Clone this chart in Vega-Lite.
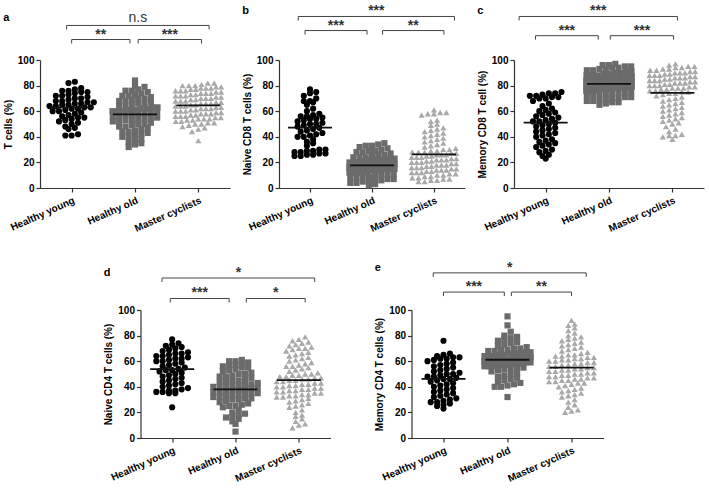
{
"$schema": "https://vega.github.io/schema/vega-lite/v6.json",
"padding": {"left": 3, "top": 4, "right": 2, "bottom": 2},
"datasets": {
"a": [{"g":0,"v":83},{"g":0,"v":82},{"g":0,"v":78},{"g":0,"v":77},{"g":0,"v":76},{"g":0,"v":76},{"g":0,"v":75},{"g":0,"v":75},{"g":0,"v":74},{"g":0,"v":73},{"g":0,"v":72},{"g":0,"v":72},{"g":0,"v":71},{"g":0,"v":70},{"g":0,"v":70},{"g":0,"v":69},{"g":0,"v":68},{"g":0,"v":68},{"g":0,"v":67},{"g":0,"v":67},{"g":0,"v":66},{"g":0,"v":66},{"g":0,"v":65},{"g":0,"v":65},{"g":0,"v":64},{"g":0,"v":64},{"g":0,"v":63},{"g":0,"v":63},{"g":0,"v":62},{"g":0,"v":62},{"g":0,"v":61},{"g":0,"v":60},{"g":0,"v":60},{"g":0,"v":59},{"g":0,"v":58},{"g":0,"v":57},{"g":0,"v":56},{"g":0,"v":55},{"g":0,"v":55},{"g":0,"v":54},{"g":0,"v":53},{"g":0,"v":52},{"g":0,"v":51},{"g":0,"v":50},{"g":0,"v":48},{"g":0,"v":47},{"g":0,"v":46},{"g":0,"v":42},{"g":0,"v":41},{"g":0,"v":41},
{"g":1,"v":84},{"g":1,"v":80},{"g":1,"v":79},{"g":1,"v":77},{"g":1,"v":76},{"g":1,"v":76},{"g":1,"v":75},{"g":1,"v":74},{"g":1,"v":73},{"g":1,"v":72},{"g":1,"v":72},{"g":1,"v":71},{"g":1,"v":70},{"g":1,"v":70},{"g":1,"v":69},{"g":1,"v":68},{"g":1,"v":68},{"g":1,"v":67},{"g":1,"v":66},{"g":1,"v":66},{"g":1,"v":65},{"g":1,"v":64},{"g":1,"v":64},{"g":1,"v":63},{"g":1,"v":63},{"g":1,"v":62},{"g":1,"v":62},{"g":1,"v":61},{"g":1,"v":61},{"g":1,"v":60},{"g":1,"v":60},{"g":1,"v":59},{"g":1,"v":59},{"g":1,"v":58},{"g":1,"v":58},{"g":1,"v":57},{"g":1,"v":57},{"g":1,"v":56},{"g":1,"v":56},{"g":1,"v":55},{"g":1,"v":55},{"g":1,"v":54},{"g":1,"v":54},{"g":1,"v":53},{"g":1,"v":53},{"g":1,"v":52},{"g":1,"v":52},{"g":1,"v":51},{"g":1,"v":50},{"g":1,"v":50},{"g":1,"v":49},{"g":1,"v":48},{"g":1,"v":48},{"g":1,"v":47},{"g":1,"v":46},{"g":1,"v":45},{"g":1,"v":44},{"g":1,"v":44},{"g":1,"v":43},{"g":1,"v":42},{"g":1,"v":41},{"g":1,"v":40},{"g":1,"v":40},{"g":1,"v":38},{"g":1,"v":37},{"g":1,"v":36},{"g":1,"v":35},{"g":1,"v":34},{"g":1,"v":32},{"g":1,"v":60},
{"g":2,"v":82},{"g":2,"v":82},{"g":2,"v":81},{"g":2,"v":80},{"g":2,"v":80},{"g":2,"v":79},{"g":2,"v":79},{"g":2,"v":78},{"g":2,"v":78},{"g":2,"v":77},{"g":2,"v":77},{"g":2,"v":76},{"g":2,"v":76},{"g":2,"v":75},{"g":2,"v":75},{"g":2,"v":74},{"g":2,"v":74},{"g":2,"v":73},{"g":2,"v":73},{"g":2,"v":72},{"g":2,"v":72},{"g":2,"v":71},{"g":2,"v":71},{"g":2,"v":70},{"g":2,"v":70},{"g":2,"v":69},{"g":2,"v":69},{"g":2,"v":68},{"g":2,"v":68},{"g":2,"v":67},{"g":2,"v":67},{"g":2,"v":66},{"g":2,"v":66},{"g":2,"v":65},{"g":2,"v":65},{"g":2,"v":64},{"g":2,"v":64},{"g":2,"v":63},{"g":2,"v":63},{"g":2,"v":62},{"g":2,"v":62},{"g":2,"v":61},{"g":2,"v":61},{"g":2,"v":60},{"g":2,"v":60},{"g":2,"v":59},{"g":2,"v":59},{"g":2,"v":58},{"g":2,"v":58},{"g":2,"v":57},{"g":2,"v":57},{"g":2,"v":56},{"g":2,"v":56},{"g":2,"v":55},{"g":2,"v":55},{"g":2,"v":54},{"g":2,"v":54},{"g":2,"v":53},{"g":2,"v":53},{"g":2,"v":52},{"g":2,"v":52},{"g":2,"v":51},{"g":2,"v":51},{"g":2,"v":50},{"g":2,"v":50},{"g":2,"v":49},{"g":2,"v":48},{"g":2,"v":47},{"g":2,"v":46},{"g":2,"v":44},{"g":2,"v":37},{"g":2,"v":78},{"g":2,"v":76},{"g":2,"v":74},{"g":2,"v":72},{"g":2,"v":70},{"g":2,"v":68},{"g":2,"v":66},{"g":2,"v":64},{"g":2,"v":62},{"g":2,"v":60},{"g":2,"v":58},{"g":2,"v":56},{"g":2,"v":54},{"g":2,"v":80}],
"b": [{"g":0,"v":77},{"g":0,"v":75},{"g":0,"v":74},{"g":0,"v":72},{"g":0,"v":70},{"g":0,"v":68},{"g":0,"v":68},{"g":0,"v":67},{"g":0,"v":65},{"g":0,"v":62},{"g":0,"v":60},{"g":0,"v":58},{"g":0,"v":57},{"g":0,"v":56},{"g":0,"v":56},{"g":0,"v":55},{"g":0,"v":54},{"g":0,"v":54},{"g":0,"v":53},{"g":0,"v":52},{"g":0,"v":51},{"g":0,"v":50},{"g":0,"v":50},{"g":0,"v":49},{"g":0,"v":48},{"g":0,"v":47},{"g":0,"v":46},{"g":0,"v":45},{"g":0,"v":44},{"g":0,"v":43},{"g":0,"v":42},{"g":0,"v":41},{"g":0,"v":40},{"g":0,"v":40},{"g":0,"v":38},{"g":0,"v":36},{"g":0,"v":35},{"g":0,"v":33},{"g":0,"v":30},{"g":0,"v":30},{"g":0,"v":29},{"g":0,"v":29},{"g":0,"v":28},{"g":0,"v":28},{"g":0,"v":27},{"g":0,"v":27},{"g":0,"v":26},{"g":0,"v":26},{"g":0,"v":25},{"g":0,"v":25},
{"g":1,"v":35},{"g":1,"v":34},{"g":1,"v":33},{"g":1,"v":33},{"g":1,"v":32},{"g":1,"v":31},{"g":1,"v":30},{"g":1,"v":29},{"g":1,"v":29},{"g":1,"v":28},{"g":1,"v":28},{"g":1,"v":27},{"g":1,"v":26},{"g":1,"v":26},{"g":1,"v":25},{"g":1,"v":24},{"g":1,"v":24},{"g":1,"v":23},{"g":1,"v":22},{"g":1,"v":22},{"g":1,"v":21},{"g":1,"v":21},{"g":1,"v":20},{"g":1,"v":20},{"g":1,"v":19},{"g":1,"v":19},{"g":1,"v":18},{"g":1,"v":18},{"g":1,"v":17},{"g":1,"v":17},{"g":1,"v":16},{"g":1,"v":16},{"g":1,"v":15},{"g":1,"v":15},{"g":1,"v":14},{"g":1,"v":14},{"g":1,"v":13},{"g":1,"v":13},{"g":1,"v":12},{"g":1,"v":12},{"g":1,"v":11},{"g":1,"v":11},{"g":1,"v":10},{"g":1,"v":10},{"g":1,"v":9},{"g":1,"v":9},{"g":1,"v":8},{"g":1,"v":8},{"g":1,"v":7},{"g":1,"v":7},{"g":1,"v":6},{"g":1,"v":6},{"g":1,"v":5},{"g":1,"v":5},{"g":1,"v":4},{"g":1,"v":4},{"g":1,"v":3},{"g":1,"v":2},{"g":1,"v":18},{"g":1,"v":20},{"g":1,"v":22},{"g":1,"v":24},{"g":1,"v":16},{"g":1,"v":14},{"g":1,"v":12},{"g":1,"v":19},{"g":1,"v":21},{"g":1,"v":23},{"g":1,"v":17},{"g":1,"v":15},
{"g":2,"v":61},{"g":2,"v":59},{"g":2,"v":59},{"g":2,"v":58},{"g":2,"v":58},{"g":2,"v":57},{"g":2,"v":53},{"g":2,"v":52},{"g":2,"v":50},{"g":2,"v":49},{"g":2,"v":47},{"g":2,"v":46},{"g":2,"v":45},{"g":2,"v":44},{"g":2,"v":43},{"g":2,"v":42},{"g":2,"v":41},{"g":2,"v":40},{"g":2,"v":39},{"g":2,"v":38},{"g":2,"v":37},{"g":2,"v":36},{"g":2,"v":35},{"g":2,"v":34},{"g":2,"v":33},{"g":2,"v":32},{"g":2,"v":31},{"g":2,"v":30},{"g":2,"v":30},{"g":2,"v":29},{"g":2,"v":29},{"g":2,"v":28},{"g":2,"v":28},{"g":2,"v":27},{"g":2,"v":27},{"g":2,"v":26},{"g":2,"v":26},{"g":2,"v":25},{"g":2,"v":25},{"g":2,"v":24},{"g":2,"v":24},{"g":2,"v":23},{"g":2,"v":23},{"g":2,"v":22},{"g":2,"v":22},{"g":2,"v":21},{"g":2,"v":21},{"g":2,"v":20},{"g":2,"v":20},{"g":2,"v":19},{"g":2,"v":19},{"g":2,"v":18},{"g":2,"v":18},{"g":2,"v":17},{"g":2,"v":17},{"g":2,"v":16},{"g":2,"v":16},{"g":2,"v":15},{"g":2,"v":15},{"g":2,"v":14},{"g":2,"v":14},{"g":2,"v":13},{"g":2,"v":13},{"g":2,"v":12},{"g":2,"v":12},{"g":2,"v":11},{"g":2,"v":11},{"g":2,"v":10},{"g":2,"v":10},{"g":2,"v":9},{"g":2,"v":9},{"g":2,"v":8},{"g":2,"v":8},{"g":2,"v":7},{"g":2,"v":7},{"g":2,"v":6},{"g":2,"v":6},{"g":2,"v":5},{"g":2,"v":5},{"g":2,"v":28},{"g":2,"v":26},{"g":2,"v":24},{"g":2,"v":22},{"g":2,"v":20},{"g":2,"v":18},{"g":2,"v":16},{"g":2,"v":14},{"g":2,"v":12}],
"c": [{"g":0,"v":75},{"g":0,"v":74},{"g":0,"v":74},{"g":0,"v":73},{"g":0,"v":72},{"g":0,"v":72},{"g":0,"v":71},{"g":0,"v":71},{"g":0,"v":70},{"g":0,"v":70},{"g":0,"v":68},{"g":0,"v":66},{"g":0,"v":64},{"g":0,"v":62},{"g":0,"v":61},{"g":0,"v":60},{"g":0,"v":59},{"g":0,"v":58},{"g":0,"v":57},{"g":0,"v":56},{"g":0,"v":55},{"g":0,"v":54},{"g":0,"v":53},{"g":0,"v":52},{"g":0,"v":52},{"g":0,"v":51},{"g":0,"v":50},{"g":0,"v":49},{"g":0,"v":48},{"g":0,"v":47},{"g":0,"v":46},{"g":0,"v":45},{"g":0,"v":44},{"g":0,"v":43},{"g":0,"v":42},{"g":0,"v":41},{"g":0,"v":40},{"g":0,"v":38},{"g":0,"v":37},{"g":0,"v":36},{"g":0,"v":35},{"g":0,"v":34},{"g":0,"v":33},{"g":0,"v":32},{"g":0,"v":30},{"g":0,"v":29},{"g":0,"v":28},{"g":0,"v":26},{"g":0,"v":25},{"g":0,"v":23},
{"g":1,"v":97},{"g":1,"v":96},{"g":1,"v":96},{"g":1,"v":95},{"g":1,"v":95},{"g":1,"v":94},{"g":1,"v":94},{"g":1,"v":93},{"g":1,"v":93},{"g":1,"v":92},{"g":1,"v":92},{"g":1,"v":91},{"g":1,"v":91},{"g":1,"v":90},{"g":1,"v":90},{"g":1,"v":89},{"g":1,"v":89},{"g":1,"v":88},{"g":1,"v":88},{"g":1,"v":87},{"g":1,"v":87},{"g":1,"v":86},{"g":1,"v":86},{"g":1,"v":85},{"g":1,"v":85},{"g":1,"v":84},{"g":1,"v":84},{"g":1,"v":83},{"g":1,"v":83},{"g":1,"v":82},{"g":1,"v":82},{"g":1,"v":81},{"g":1,"v":81},{"g":1,"v":80},{"g":1,"v":80},{"g":1,"v":79},{"g":1,"v":79},{"g":1,"v":78},{"g":1,"v":78},{"g":1,"v":77},{"g":1,"v":77},{"g":1,"v":76},{"g":1,"v":76},{"g":1,"v":75},{"g":1,"v":75},{"g":1,"v":74},{"g":1,"v":74},{"g":1,"v":73},{"g":1,"v":73},{"g":1,"v":72},{"g":1,"v":72},{"g":1,"v":71},{"g":1,"v":71},{"g":1,"v":70},{"g":1,"v":70},{"g":1,"v":69},{"g":1,"v":69},{"g":1,"v":68},{"g":1,"v":68},{"g":1,"v":67},{"g":1,"v":67},{"g":1,"v":66},{"g":1,"v":65},{"g":1,"v":82},{"g":1,"v":84},{"g":1,"v":80},{"g":1,"v":86},{"g":1,"v":78},{"g":1,"v":88},{"g":1,"v":76},
{"g":2,"v":97},{"g":2,"v":96},{"g":2,"v":95},{"g":2,"v":95},{"g":2,"v":94},{"g":2,"v":94},{"g":2,"v":93},{"g":2,"v":93},{"g":2,"v":92},{"g":2,"v":92},{"g":2,"v":91},{"g":2,"v":91},{"g":2,"v":90},{"g":2,"v":90},{"g":2,"v":89},{"g":2,"v":89},{"g":2,"v":88},{"g":2,"v":88},{"g":2,"v":87},{"g":2,"v":87},{"g":2,"v":86},{"g":2,"v":86},{"g":2,"v":85},{"g":2,"v":85},{"g":2,"v":84},{"g":2,"v":84},{"g":2,"v":83},{"g":2,"v":83},{"g":2,"v":82},{"g":2,"v":82},{"g":2,"v":81},{"g":2,"v":81},{"g":2,"v":80},{"g":2,"v":80},{"g":2,"v":79},{"g":2,"v":79},{"g":2,"v":78},{"g":2,"v":78},{"g":2,"v":77},{"g":2,"v":77},{"g":2,"v":76},{"g":2,"v":76},{"g":2,"v":75},{"g":2,"v":75},{"g":2,"v":74},{"g":2,"v":74},{"g":2,"v":73},{"g":2,"v":72},{"g":2,"v":71},{"g":2,"v":70},{"g":2,"v":69},{"g":2,"v":68},{"g":2,"v":67},{"g":2,"v":66},{"g":2,"v":65},{"g":2,"v":64},{"g":2,"v":63},{"g":2,"v":62},{"g":2,"v":61},{"g":2,"v":60},{"g":2,"v":59},{"g":2,"v":58},{"g":2,"v":57},{"g":2,"v":56},{"g":2,"v":55},{"g":2,"v":54},{"g":2,"v":53},{"g":2,"v":52},{"g":2,"v":51},{"g":2,"v":50},{"g":2,"v":48},{"g":2,"v":46},{"g":2,"v":44},{"g":2,"v":42},{"g":2,"v":41},{"g":2,"v":41},{"g":2,"v":40},{"g":2,"v":38},{"g":2,"v":90},{"g":2,"v":88},{"g":2,"v":86},{"g":2,"v":84},{"g":2,"v":82},{"g":2,"v":80},{"g":2,"v":78}],
"d": [{"g":0,"v":77},{"g":0,"v":74},{"g":0,"v":73},{"g":0,"v":72},{"g":0,"v":71},{"g":0,"v":70},{"g":0,"v":69},{"g":0,"v":68},{"g":0,"v":67},{"g":0,"v":66},{"g":0,"v":65},{"g":0,"v":64},{"g":0,"v":63},{"g":0,"v":62},{"g":0,"v":61},{"g":0,"v":60},{"g":0,"v":59},{"g":0,"v":58},{"g":0,"v":57},{"g":0,"v":56},{"g":0,"v":55},{"g":0,"v":54},{"g":0,"v":53},{"g":0,"v":53},{"g":0,"v":52},{"g":0,"v":51},{"g":0,"v":50},{"g":0,"v":49},{"g":0,"v":48},{"g":0,"v":47},{"g":0,"v":46},{"g":0,"v":45},{"g":0,"v":44},{"g":0,"v":43},{"g":0,"v":42},{"g":0,"v":41},{"g":0,"v":40},{"g":0,"v":39},{"g":0,"v":38},{"g":0,"v":37},{"g":0,"v":37},{"g":0,"v":36},{"g":0,"v":36},{"g":0,"v":35},{"g":0,"v":35},{"g":0,"v":60},{"g":0,"v":62},{"g":0,"v":64},{"g":0,"v":66},{"g":0,"v":24},
{"g":1,"v":61},{"g":1,"v":60},{"g":1,"v":60},{"g":1,"v":59},{"g":1,"v":58},{"g":1,"v":57},{"g":1,"v":56},{"g":1,"v":56},{"g":1,"v":55},{"g":1,"v":55},{"g":1,"v":54},{"g":1,"v":53},{"g":1,"v":52},{"g":1,"v":51},{"g":1,"v":50},{"g":1,"v":49},{"g":1,"v":48},{"g":1,"v":47},{"g":1,"v":46},{"g":1,"v":45},{"g":1,"v":44},{"g":1,"v":43},{"g":1,"v":42},{"g":1,"v":42},{"g":1,"v":41},{"g":1,"v":41},{"g":1,"v":40},{"g":1,"v":40},{"g":1,"v":39},{"g":1,"v":39},{"g":1,"v":38},{"g":1,"v":38},{"g":1,"v":37},{"g":1,"v":37},{"g":1,"v":36},{"g":1,"v":36},{"g":1,"v":35},{"g":1,"v":35},{"g":1,"v":34},{"g":1,"v":34},{"g":1,"v":33},{"g":1,"v":33},{"g":1,"v":32},{"g":1,"v":32},{"g":1,"v":31},{"g":1,"v":31},{"g":1,"v":30},{"g":1,"v":30},{"g":1,"v":29},{"g":1,"v":28},{"g":1,"v":27},{"g":1,"v":26},{"g":1,"v":25},{"g":1,"v":25},{"g":1,"v":24},{"g":1,"v":22},{"g":1,"v":20},{"g":1,"v":19},{"g":1,"v":18},{"g":1,"v":17},{"g":1,"v":16},{"g":1,"v":15},{"g":1,"v":13},{"g":1,"v":11},{"g":1,"v":5},{"g":1,"v":50},{"g":1,"v":45},{"g":1,"v":40},{"g":1,"v":48},{"g":1,"v":44},
{"g":2,"v":79},{"g":2,"v":77},{"g":2,"v":76},{"g":2,"v":75},{"g":2,"v":74},{"g":2,"v":73},{"g":2,"v":72},{"g":2,"v":71},{"g":2,"v":70},{"g":2,"v":70},{"g":2,"v":69},{"g":2,"v":68},{"g":2,"v":67},{"g":2,"v":66},{"g":2,"v":65},{"g":2,"v":64},{"g":2,"v":63},{"g":2,"v":62},{"g":2,"v":61},{"g":2,"v":60},{"g":2,"v":59},{"g":2,"v":58},{"g":2,"v":57},{"g":2,"v":56},{"g":2,"v":55},{"g":2,"v":54},{"g":2,"v":53},{"g":2,"v":52},{"g":2,"v":51},{"g":2,"v":50},{"g":2,"v":50},{"g":2,"v":49},{"g":2,"v":49},{"g":2,"v":48},{"g":2,"v":48},{"g":2,"v":47},{"g":2,"v":47},{"g":2,"v":46},{"g":2,"v":46},{"g":2,"v":45},{"g":2,"v":45},{"g":2,"v":44},{"g":2,"v":44},{"g":2,"v":43},{"g":2,"v":43},{"g":2,"v":42},{"g":2,"v":42},{"g":2,"v":41},{"g":2,"v":41},{"g":2,"v":40},{"g":2,"v":40},{"g":2,"v":39},{"g":2,"v":39},{"g":2,"v":38},{"g":2,"v":38},{"g":2,"v":37},{"g":2,"v":37},{"g":2,"v":36},{"g":2,"v":36},{"g":2,"v":35},{"g":2,"v":35},{"g":2,"v":34},{"g":2,"v":34},{"g":2,"v":33},{"g":2,"v":33},{"g":2,"v":32},{"g":2,"v":32},{"g":2,"v":31},{"g":2,"v":30},{"g":2,"v":29},{"g":2,"v":28},{"g":2,"v":27},{"g":2,"v":26},{"g":2,"v":25},{"g":2,"v":24},{"g":2,"v":22},{"g":2,"v":20},{"g":2,"v":18},{"g":2,"v":17},{"g":2,"v":15},{"g":2,"v":13},{"g":2,"v":11},{"g":2,"v":10},{"g":2,"v":8},{"g":2,"v":56}],
"e": [{"g":0,"v":76},{"g":0,"v":66},{"g":0,"v":65},{"g":0,"v":64},{"g":0,"v":63},{"g":0,"v":63},{"g":0,"v":62},{"g":0,"v":62},{"g":0,"v":61},{"g":0,"v":60},{"g":0,"v":59},{"g":0,"v":58},{"g":0,"v":57},{"g":0,"v":56},{"g":0,"v":55},{"g":0,"v":54},{"g":0,"v":53},{"g":0,"v":52},{"g":0,"v":51},{"g":0,"v":50},{"g":0,"v":50},{"g":0,"v":49},{"g":0,"v":48},{"g":0,"v":47},{"g":0,"v":46},{"g":0,"v":45},{"g":0,"v":44},{"g":0,"v":43},{"g":0,"v":42},{"g":0,"v":41},{"g":0,"v":40},{"g":0,"v":39},{"g":0,"v":38},{"g":0,"v":37},{"g":0,"v":36},{"g":0,"v":35},{"g":0,"v":34},{"g":0,"v":33},{"g":0,"v":32},{"g":0,"v":31},{"g":0,"v":30},{"g":0,"v":29},{"g":0,"v":28},{"g":0,"v":28},{"g":0,"v":27},{"g":0,"v":26},{"g":0,"v":25},{"g":0,"v":23},{"g":0,"v":48},{"g":0,"v":46},
{"g":1,"v":95},{"g":1,"v":88},{"g":1,"v":83},{"g":1,"v":80},{"g":1,"v":79},{"g":1,"v":78},{"g":1,"v":77},{"g":1,"v":76},{"g":1,"v":75},{"g":1,"v":74},{"g":1,"v":73},{"g":1,"v":72},{"g":1,"v":71},{"g":1,"v":70},{"g":1,"v":70},{"g":1,"v":69},{"g":1,"v":69},{"g":1,"v":68},{"g":1,"v":68},{"g":1,"v":67},{"g":1,"v":67},{"g":1,"v":66},{"g":1,"v":66},{"g":1,"v":65},{"g":1,"v":65},{"g":1,"v":64},{"g":1,"v":64},{"g":1,"v":63},{"g":1,"v":63},{"g":1,"v":62},{"g":1,"v":62},{"g":1,"v":61},{"g":1,"v":61},{"g":1,"v":60},{"g":1,"v":60},{"g":1,"v":59},{"g":1,"v":59},{"g":1,"v":58},{"g":1,"v":58},{"g":1,"v":57},{"g":1,"v":57},{"g":1,"v":56},{"g":1,"v":56},{"g":1,"v":55},{"g":1,"v":55},{"g":1,"v":54},{"g":1,"v":53},{"g":1,"v":52},{"g":1,"v":51},{"g":1,"v":50},{"g":1,"v":49},{"g":1,"v":48},{"g":1,"v":47},{"g":1,"v":46},{"g":1,"v":45},{"g":1,"v":44},{"g":1,"v":43},{"g":1,"v":42},{"g":1,"v":41},{"g":1,"v":40},{"g":1,"v":40},{"g":1,"v":32},{"g":1,"v":60},{"g":1,"v":62},{"g":1,"v":58},{"g":1,"v":64},{"g":1,"v":56},{"g":1,"v":66},{"g":1,"v":54},{"g":1,"v":61},
{"g":2,"v":92},{"g":2,"v":89},{"g":2,"v":88},{"g":2,"v":86},{"g":2,"v":84},{"g":2,"v":82},{"g":2,"v":80},{"g":2,"v":79},{"g":2,"v":78},{"g":2,"v":77},{"g":2,"v":76},{"g":2,"v":75},{"g":2,"v":74},{"g":2,"v":73},{"g":2,"v":72},{"g":2,"v":71},{"g":2,"v":70},{"g":2,"v":69},{"g":2,"v":68},{"g":2,"v":67},{"g":2,"v":66},{"g":2,"v":65},{"g":2,"v":65},{"g":2,"v":64},{"g":2,"v":64},{"g":2,"v":63},{"g":2,"v":63},{"g":2,"v":62},{"g":2,"v":62},{"g":2,"v":61},{"g":2,"v":61},{"g":2,"v":60},{"g":2,"v":60},{"g":2,"v":59},{"g":2,"v":59},{"g":2,"v":58},{"g":2,"v":58},{"g":2,"v":57},{"g":2,"v":57},{"g":2,"v":56},{"g":2,"v":56},{"g":2,"v":55},{"g":2,"v":55},{"g":2,"v":54},{"g":2,"v":54},{"g":2,"v":53},{"g":2,"v":53},{"g":2,"v":52},{"g":2,"v":52},{"g":2,"v":51},{"g":2,"v":51},{"g":2,"v":50},{"g":2,"v":50},{"g":2,"v":49},{"g":2,"v":49},{"g":2,"v":48},{"g":2,"v":48},{"g":2,"v":47},{"g":2,"v":47},{"g":2,"v":46},{"g":2,"v":46},{"g":2,"v":45},{"g":2,"v":45},{"g":2,"v":44},{"g":2,"v":44},{"g":2,"v":43},{"g":2,"v":43},{"g":2,"v":42},{"g":2,"v":41},{"g":2,"v":40},{"g":2,"v":39},{"g":2,"v":38},{"g":2,"v":37},{"g":2,"v":36},{"g":2,"v":35},{"g":2,"v":34},{"g":2,"v":33},{"g":2,"v":32},{"g":2,"v":30},{"g":2,"v":28},{"g":2,"v":26},{"g":2,"v":24},{"g":2,"v":22},{"g":2,"v":21},{"g":2,"v":20}],
"br": [
{"p":"a","x1":-0.08,"x2":2.17,"y":127,"t":"n.s"},{"p":"a","x1":0,"x2":0.92,"y":116,"t":"**"},{"p":"a","x1":1.05,"x2":2.05,"y":116,"t":"***"},
{"p":"b","x1":-0.19,"x2":2.33,"y":134,"t":"***"},{"p":"b","x1":-0.08,"x2":0.92,"y":123,"t":"***"},{"p":"b","x1":1.17,"x2":2.16,"y":123,"t":"**"},
{"p":"c","x1":-0.42,"x2":2.08,"y":134,"t":"***"},{"p":"c","x1":-0.16,"x2":0.83,"y":119,"t":"***"},{"p":"c","x1":1.02,"x2":2.02,"y":119,"t":"***"},
{"p":"d","x1":-0.16,"x2":2.25,"y":125,"t":"*"},{"p":"d","x1":-0.03,"x2":0.9,"y":109,"t":"***"},{"p":"d","x1":1.17,"x2":2.1,"y":109,"t":"*"},
{"p":"e","x1":-0.16,"x2":2.23,"y":129,"t":"*"},{"p":"e","x1":0,"x2":0.95,"y":114,"t":"***"},{"p":"e","x1":1.06,"x2":2.0,"y":114,"t":"**"}
]
},
"vconcat": [
{"hconcat": [
{"width":190,"height":128,"title":"a","layer":[
{"data":{"name":"a"},"transform":[{"bin":{"step":4,"extent":[0,100]},"field":"v","as":"vb"},{"window":[{"op":"row_number","as":"r"}],"groupby":["g","vb"],"sort":[{"field":"v"}]},{"joinaggregate":[{"op":"count","as":"n"}],"groupby":["g","vb"]},{"calculate":"datum.g + (datum.r - (datum.n + 1) / 2) * min(0.1, 0.8 / datum.n)","as":"xp"}],
"mark":{"type":"point","filled":true,"size":38,"opacity":1},
"encoding":{"x":{"field":"xp","type":"quantitative","scale":{"domain":[-0.5,2.5]},"axis":{"values":[0,1,2],"title":null,"labelOverlap":false,"labelExpr":"datum.value == 0 ? 'Healthy young' : datum.value == 1 ? 'Healthy old' : 'Master cyclists'"}},"y":{"field":"v","type":"quantitative","scale":{"domain":[0,100]},"axis":{"values":[0,20,40,60,80,100],"labelOverlap":false,"title":"T cells (%)"}},"shape":{"field":"g","type":"nominal","scale":{"domain":[0,1,2],"range":["circle","square","triangle-up"]},"legend":null},"color":{"field":"g","type":"nominal","scale":{"domain":[0,1,2],"range":["#000000","#6b6b6b","#a9a9a9"]},"legend":null}}},
{"data":{"name":"a"},"mark":{"type":"rule","color":"#111","strokeWidth":1.8,"xOffset":-22,"x2Offset":22},"encoding":{"x":{"field":"g","type":"quantitative","scale":{"domain":[-0.5,2.5]},"axis":{"values":[0,1,2],"title":null,"labelOverlap":false,"labelExpr":"datum.value == 0 ? 'Healthy young' : datum.value == 1 ? 'Healthy old' : 'Master cyclists'"}},"x2":{"field":"g"},"y":{"aggregate":"mean","field":"v","type":"quantitative","scale":{"domain":[0,100]},"axis":{"values":[0,20,40,60,80,100],"labelOverlap":false,"title":"T cells (%)"}}}},
{"data":{"name":"br"},"transform":[{"filter":"datum.p == 'a'"}],"mark":{"type":"rule","color":"#444"},"encoding":{"x":{"field":"x1","type":"quantitative","scale":{"domain":[-0.5,2.5]},"axis":{"values":[0,1,2],"title":null,"labelOverlap":false,"labelExpr":"datum.value == 0 ? 'Healthy young' : datum.value == 1 ? 'Healthy old' : 'Master cyclists'"}},"x2":{"field":"x2"},"y":{"field":"y","type":"quantitative","scale":{"domain":[0,100]},"axis":{"values":[0,20,40,60,80,100],"labelOverlap":false,"title":"T cells (%)"}}}},
{"data":{"name":"br"},"transform":[{"filter":"datum.p == 'a'"},{"fold":["x1","x2"],"as":["k","xx"]}],"mark":{"type":"rule","color":"#444","y2Offset":4},"encoding":{"x":{"field":"xx","type":"quantitative","scale":{"domain":[-0.5,2.5]},"axis":{"values":[0,1,2],"title":null,"labelOverlap":false,"labelExpr":"datum.value == 0 ? 'Healthy young' : datum.value == 1 ? 'Healthy old' : 'Master cyclists'"}},"y":{"field":"y","type":"quantitative","scale":{"domain":[0,100]},"axis":{"values":[0,20,40,60,80,100],"labelOverlap":false,"title":"T cells (%)"}},"y2":{"field":"y"}}},
{"data":{"name":"br"},"transform":[{"filter":"datum.p == 'a' && datum.t != 'n.s'"},{"calculate":"(datum.x1 + datum.x2) / 2","as":"xm"}],"mark":{"type":"text","fontSize":14,"fontWeight":"bold","dy":-1,"baseline":"alphabetic","color":"#333"},"encoding":{"x":{"field":"xm","type":"quantitative","scale":{"domain":[-0.5,2.5]},"axis":{"values":[0,1,2],"title":null,"labelOverlap":false,"labelExpr":"datum.value == 0 ? 'Healthy young' : datum.value == 1 ? 'Healthy old' : 'Master cyclists'"}},"y":{"field":"y","type":"quantitative","scale":{"domain":[0,100]},"axis":{"values":[0,20,40,60,80,100],"labelOverlap":false,"title":"T cells (%)"}},"text":{"field":"t"}}},
{"data":{"name":"br"},"transform":[{"filter":"datum.p == 'a' && datum.t == 'n.s'"},{"calculate":"(datum.x1 + datum.x2) / 2","as":"xm"}],"mark":{"type":"text","fontSize":14,"fontWeight":"normal","dy":-3,"baseline":"alphabetic","color":"#333"},"encoding":{"x":{"field":"xm","type":"quantitative","scale":{"domain":[-0.5,2.5]},"axis":{"values":[0,1,2],"title":null,"labelOverlap":false,"labelExpr":"datum.value == 0 ? 'Healthy young' : datum.value == 1 ? 'Healthy old' : 'Master cyclists'"}},"y":{"field":"y","type":"quantitative","scale":{"domain":[0,100]},"axis":{"values":[0,20,40,60,80,100],"labelOverlap":false,"title":"T cells (%)"}},"text":{"field":"t"}}}
]},
{"width":186,"height":128,"title":"b","layer":[
{"data":{"name":"b"},"transform":[{"bin":{"step":4,"extent":[0,100]},"field":"v","as":"vb"},{"window":[{"op":"row_number","as":"r"}],"groupby":["g","vb"],"sort":[{"field":"v"}]},{"joinaggregate":[{"op":"count","as":"n"}],"groupby":["g","vb"]},{"calculate":"datum.g + (datum.r - (datum.n + 1) / 2) * min(0.1, 0.8 / datum.n)","as":"xp"}],
"mark":{"type":"point","filled":true,"size":38,"opacity":1},
"encoding":{"x":{"field":"xp","type":"quantitative","scale":{"domain":[-0.5,2.5]},"axis":{"values":[0,1,2],"title":null,"labelOverlap":false,"labelExpr":"datum.value == 0 ? 'Healthy young' : datum.value == 1 ? 'Healthy old' : 'Master cyclists'"}},"y":{"field":"v","type":"quantitative","scale":{"domain":[0,100]},"axis":{"values":[0,20,40,60,80,100],"labelOverlap":false,"title":"Naive CD8 T cells (%)"}},"shape":{"field":"g","type":"nominal","scale":{"domain":[0,1,2],"range":["circle","square","triangle-up"]},"legend":null},"color":{"field":"g","type":"nominal","scale":{"domain":[0,1,2],"range":["#000000","#6b6b6b","#a9a9a9"]},"legend":null}}},
{"data":{"name":"b"},"mark":{"type":"rule","color":"#111","strokeWidth":1.8,"xOffset":-22,"x2Offset":22},"encoding":{"x":{"field":"g","type":"quantitative","scale":{"domain":[-0.5,2.5]},"axis":{"values":[0,1,2],"title":null,"labelOverlap":false,"labelExpr":"datum.value == 0 ? 'Healthy young' : datum.value == 1 ? 'Healthy old' : 'Master cyclists'"}},"x2":{"field":"g"},"y":{"aggregate":"mean","field":"v","type":"quantitative","scale":{"domain":[0,100]},"axis":{"values":[0,20,40,60,80,100],"labelOverlap":false,"title":"Naive CD8 T cells (%)"}}}},
{"data":{"name":"br"},"transform":[{"filter":"datum.p == 'b'"}],"mark":{"type":"rule","color":"#444"},"encoding":{"x":{"field":"x1","type":"quantitative","scale":{"domain":[-0.5,2.5]},"axis":{"values":[0,1,2],"title":null,"labelOverlap":false,"labelExpr":"datum.value == 0 ? 'Healthy young' : datum.value == 1 ? 'Healthy old' : 'Master cyclists'"}},"x2":{"field":"x2"},"y":{"field":"y","type":"quantitative","scale":{"domain":[0,100]},"axis":{"values":[0,20,40,60,80,100],"labelOverlap":false,"title":"Naive CD8 T cells (%)"}}}},
{"data":{"name":"br"},"transform":[{"filter":"datum.p == 'b'"},{"fold":["x1","x2"],"as":["k","xx"]}],"mark":{"type":"rule","color":"#444","y2Offset":4},"encoding":{"x":{"field":"xx","type":"quantitative","scale":{"domain":[-0.5,2.5]},"axis":{"values":[0,1,2],"title":null,"labelOverlap":false,"labelExpr":"datum.value == 0 ? 'Healthy young' : datum.value == 1 ? 'Healthy old' : 'Master cyclists'"}},"y":{"field":"y","type":"quantitative","scale":{"domain":[0,100]},"axis":{"values":[0,20,40,60,80,100],"labelOverlap":false,"title":"Naive CD8 T cells (%)"}},"y2":{"field":"y"}}},
{"data":{"name":"br"},"transform":[{"filter":"datum.p == 'b'"},{"calculate":"(datum.x1 + datum.x2) / 2","as":"xm"}],"mark":{"type":"text","fontSize":14,"fontWeight":"bold","dy":-1,"baseline":"alphabetic","color":"#333"},"encoding":{"x":{"field":"xm","type":"quantitative","scale":{"domain":[-0.5,2.5]},"axis":{"values":[0,1,2],"title":null,"labelOverlap":false,"labelExpr":"datum.value == 0 ? 'Healthy young' : datum.value == 1 ? 'Healthy old' : 'Master cyclists'"}},"y":{"field":"y","type":"quantitative","scale":{"domain":[0,100]},"axis":{"values":[0,20,40,60,80,100],"labelOverlap":false,"title":"Naive CD8 T cells (%)"}},"text":{"field":"t"}}}
]},
{"width":190,"height":128,"title":"c","layer":[
{"data":{"name":"c"},"transform":[{"bin":{"step":4,"extent":[0,100]},"field":"v","as":"vb"},{"window":[{"op":"row_number","as":"r"}],"groupby":["g","vb"],"sort":[{"field":"v"}]},{"joinaggregate":[{"op":"count","as":"n"}],"groupby":["g","vb"]},{"calculate":"datum.g + (datum.r - (datum.n + 1) / 2) * min(0.1, 0.8 / datum.n)","as":"xp"}],
"mark":{"type":"point","filled":true,"size":38,"opacity":1},
"encoding":{"x":{"field":"xp","type":"quantitative","scale":{"domain":[-0.5,2.5]},"axis":{"values":[0,1,2],"title":null,"labelOverlap":false,"labelExpr":"datum.value == 0 ? 'Healthy young' : datum.value == 1 ? 'Healthy old' : 'Master cyclists'"}},"y":{"field":"v","type":"quantitative","scale":{"domain":[0,100]},"axis":{"values":[0,20,40,60,80,100],"labelOverlap":false,"title":"Memory CD8 T cell (%)"}},"shape":{"field":"g","type":"nominal","scale":{"domain":[0,1,2],"range":["circle","square","triangle-up"]},"legend":null},"color":{"field":"g","type":"nominal","scale":{"domain":[0,1,2],"range":["#000000","#6b6b6b","#a9a9a9"]},"legend":null}}},
{"data":{"name":"c"},"mark":{"type":"rule","color":"#111","strokeWidth":1.8,"xOffset":-22,"x2Offset":22},"encoding":{"x":{"field":"g","type":"quantitative","scale":{"domain":[-0.5,2.5]},"axis":{"values":[0,1,2],"title":null,"labelOverlap":false,"labelExpr":"datum.value == 0 ? 'Healthy young' : datum.value == 1 ? 'Healthy old' : 'Master cyclists'"}},"x2":{"field":"g"},"y":{"aggregate":"mean","field":"v","type":"quantitative","scale":{"domain":[0,100]},"axis":{"values":[0,20,40,60,80,100],"labelOverlap":false,"title":"Memory CD8 T cell (%)"}}}},
{"data":{"name":"br"},"transform":[{"filter":"datum.p == 'c'"}],"mark":{"type":"rule","color":"#444"},"encoding":{"x":{"field":"x1","type":"quantitative","scale":{"domain":[-0.5,2.5]},"axis":{"values":[0,1,2],"title":null,"labelOverlap":false,"labelExpr":"datum.value == 0 ? 'Healthy young' : datum.value == 1 ? 'Healthy old' : 'Master cyclists'"}},"x2":{"field":"x2"},"y":{"field":"y","type":"quantitative","scale":{"domain":[0,100]},"axis":{"values":[0,20,40,60,80,100],"labelOverlap":false,"title":"Memory CD8 T cell (%)"}}}},
{"data":{"name":"br"},"transform":[{"filter":"datum.p == 'c'"},{"fold":["x1","x2"],"as":["k","xx"]}],"mark":{"type":"rule","color":"#444","y2Offset":4},"encoding":{"x":{"field":"xx","type":"quantitative","scale":{"domain":[-0.5,2.5]},"axis":{"values":[0,1,2],"title":null,"labelOverlap":false,"labelExpr":"datum.value == 0 ? 'Healthy young' : datum.value == 1 ? 'Healthy old' : 'Master cyclists'"}},"y":{"field":"y","type":"quantitative","scale":{"domain":[0,100]},"axis":{"values":[0,20,40,60,80,100],"labelOverlap":false,"title":"Memory CD8 T cell (%)"}},"y2":{"field":"y"}}},
{"data":{"name":"br"},"transform":[{"filter":"datum.p == 'c'"},{"calculate":"(datum.x1 + datum.x2) / 2","as":"xm"}],"mark":{"type":"text","fontSize":14,"fontWeight":"bold","dy":-1,"baseline":"alphabetic","color":"#333"},"encoding":{"x":{"field":"xm","type":"quantitative","scale":{"domain":[-0.5,2.5]},"axis":{"values":[0,1,2],"title":null,"labelOverlap":false,"labelExpr":"datum.value == 0 ? 'Healthy young' : datum.value == 1 ? 'Healthy old' : 'Master cyclists'"}},"y":{"field":"y","type":"quantitative","scale":{"domain":[0,100]},"axis":{"values":[0,20,40,60,80,100],"labelOverlap":false,"title":"Memory CD8 T cell (%)"}},"text":{"field":"t"}}}
]}
], "spacing": 12},
{"hconcat": [
{"width":190,"height":128,"title":"d","layer":[
{"data":{"name":"d"},"transform":[{"bin":{"step":4,"extent":[0,100]},"field":"v","as":"vb"},{"window":[{"op":"row_number","as":"r"}],"groupby":["g","vb"],"sort":[{"field":"v"}]},{"joinaggregate":[{"op":"count","as":"n"}],"groupby":["g","vb"]},{"calculate":"datum.g + (datum.r - (datum.n + 1) / 2) * min(0.1, 0.8 / datum.n)","as":"xp"}],
"mark":{"type":"point","filled":true,"size":38,"opacity":1},
"encoding":{"x":{"field":"xp","type":"quantitative","scale":{"domain":[-0.5,2.5]},"axis":{"values":[0,1,2],"title":null,"labelOverlap":false,"labelExpr":"datum.value == 0 ? 'Healthy young' : datum.value == 1 ? 'Healthy old' : 'Master cyclists'"}},"y":{"field":"v","type":"quantitative","scale":{"domain":[0,100]},"axis":{"values":[0,20,40,60,80,100],"labelOverlap":false,"title":"Naive CD4 T cells (%)"}},"shape":{"field":"g","type":"nominal","scale":{"domain":[0,1,2],"range":["circle","square","triangle-up"]},"legend":null},"color":{"field":"g","type":"nominal","scale":{"domain":[0,1,2],"range":["#000000","#6b6b6b","#a9a9a9"]},"legend":null}}},
{"data":{"name":"d"},"mark":{"type":"rule","color":"#111","strokeWidth":1.8,"xOffset":-22,"x2Offset":22},"encoding":{"x":{"field":"g","type":"quantitative","scale":{"domain":[-0.5,2.5]},"axis":{"values":[0,1,2],"title":null,"labelOverlap":false,"labelExpr":"datum.value == 0 ? 'Healthy young' : datum.value == 1 ? 'Healthy old' : 'Master cyclists'"}},"x2":{"field":"g"},"y":{"aggregate":"mean","field":"v","type":"quantitative","scale":{"domain":[0,100]},"axis":{"values":[0,20,40,60,80,100],"labelOverlap":false,"title":"Naive CD4 T cells (%)"}}}},
{"data":{"name":"br"},"transform":[{"filter":"datum.p == 'd'"}],"mark":{"type":"rule","color":"#444"},"encoding":{"x":{"field":"x1","type":"quantitative","scale":{"domain":[-0.5,2.5]},"axis":{"values":[0,1,2],"title":null,"labelOverlap":false,"labelExpr":"datum.value == 0 ? 'Healthy young' : datum.value == 1 ? 'Healthy old' : 'Master cyclists'"}},"x2":{"field":"x2"},"y":{"field":"y","type":"quantitative","scale":{"domain":[0,100]},"axis":{"values":[0,20,40,60,80,100],"labelOverlap":false,"title":"Naive CD4 T cells (%)"}}}},
{"data":{"name":"br"},"transform":[{"filter":"datum.p == 'd'"},{"fold":["x1","x2"],"as":["k","xx"]}],"mark":{"type":"rule","color":"#444","y2Offset":4},"encoding":{"x":{"field":"xx","type":"quantitative","scale":{"domain":[-0.5,2.5]},"axis":{"values":[0,1,2],"title":null,"labelOverlap":false,"labelExpr":"datum.value == 0 ? 'Healthy young' : datum.value == 1 ? 'Healthy old' : 'Master cyclists'"}},"y":{"field":"y","type":"quantitative","scale":{"domain":[0,100]},"axis":{"values":[0,20,40,60,80,100],"labelOverlap":false,"title":"Naive CD4 T cells (%)"}},"y2":{"field":"y"}}},
{"data":{"name":"br"},"transform":[{"filter":"datum.p == 'd'"},{"calculate":"(datum.x1 + datum.x2) / 2","as":"xm"}],"mark":{"type":"text","fontSize":14,"fontWeight":"bold","dy":-1,"baseline":"alphabetic","color":"#333"},"encoding":{"x":{"field":"xm","type":"quantitative","scale":{"domain":[-0.5,2.5]},"axis":{"values":[0,1,2],"title":null,"labelOverlap":false,"labelExpr":"datum.value == 0 ? 'Healthy young' : datum.value == 1 ? 'Healthy old' : 'Master cyclists'"}},"y":{"field":"y","type":"quantitative","scale":{"domain":[0,100]},"axis":{"values":[0,20,40,60,80,100],"labelOverlap":false,"title":"Naive CD4 T cells (%)"}},"text":{"field":"t"}}}
]},
{"width":192,"height":128,"title":"e","layer":[
{"data":{"name":"e"},"transform":[{"bin":{"step":4,"extent":[0,100]},"field":"v","as":"vb"},{"window":[{"op":"row_number","as":"r"}],"groupby":["g","vb"],"sort":[{"field":"v"}]},{"joinaggregate":[{"op":"count","as":"n"}],"groupby":["g","vb"]},{"calculate":"datum.g + (datum.r - (datum.n + 1) / 2) * min(0.1, 0.8 / datum.n)","as":"xp"}],
"mark":{"type":"point","filled":true,"size":38,"opacity":1},
"encoding":{"x":{"field":"xp","type":"quantitative","scale":{"domain":[-0.5,2.5]},"axis":{"values":[0,1,2],"title":null,"labelOverlap":false,"labelExpr":"datum.value == 0 ? 'Healthy young' : datum.value == 1 ? 'Healthy old' : 'Master cyclists'"}},"y":{"field":"v","type":"quantitative","scale":{"domain":[0,100]},"axis":{"values":[0,20,40,60,80,100],"labelOverlap":false,"title":"Memory CD4 T cells (%)"}},"shape":{"field":"g","type":"nominal","scale":{"domain":[0,1,2],"range":["circle","square","triangle-up"]},"legend":null},"color":{"field":"g","type":"nominal","scale":{"domain":[0,1,2],"range":["#000000","#6b6b6b","#a9a9a9"]},"legend":null}}},
{"data":{"name":"e"},"mark":{"type":"rule","color":"#111","strokeWidth":1.8,"xOffset":-22,"x2Offset":22},"encoding":{"x":{"field":"g","type":"quantitative","scale":{"domain":[-0.5,2.5]},"axis":{"values":[0,1,2],"title":null,"labelOverlap":false,"labelExpr":"datum.value == 0 ? 'Healthy young' : datum.value == 1 ? 'Healthy old' : 'Master cyclists'"}},"x2":{"field":"g"},"y":{"aggregate":"mean","field":"v","type":"quantitative","scale":{"domain":[0,100]},"axis":{"values":[0,20,40,60,80,100],"labelOverlap":false,"title":"Memory CD4 T cells (%)"}}}},
{"data":{"name":"br"},"transform":[{"filter":"datum.p == 'e'"}],"mark":{"type":"rule","color":"#444"},"encoding":{"x":{"field":"x1","type":"quantitative","scale":{"domain":[-0.5,2.5]},"axis":{"values":[0,1,2],"title":null,"labelOverlap":false,"labelExpr":"datum.value == 0 ? 'Healthy young' : datum.value == 1 ? 'Healthy old' : 'Master cyclists'"}},"x2":{"field":"x2"},"y":{"field":"y","type":"quantitative","scale":{"domain":[0,100]},"axis":{"values":[0,20,40,60,80,100],"labelOverlap":false,"title":"Memory CD4 T cells (%)"}}}},
{"data":{"name":"br"},"transform":[{"filter":"datum.p == 'e'"},{"fold":["x1","x2"],"as":["k","xx"]}],"mark":{"type":"rule","color":"#444","y2Offset":4},"encoding":{"x":{"field":"xx","type":"quantitative","scale":{"domain":[-0.5,2.5]},"axis":{"values":[0,1,2],"title":null,"labelOverlap":false,"labelExpr":"datum.value == 0 ? 'Healthy young' : datum.value == 1 ? 'Healthy old' : 'Master cyclists'"}},"y":{"field":"y","type":"quantitative","scale":{"domain":[0,100]},"axis":{"values":[0,20,40,60,80,100],"labelOverlap":false,"title":"Memory CD4 T cells (%)"}},"y2":{"field":"y"}}},
{"data":{"name":"br"},"transform":[{"filter":"datum.p == 'e'"},{"calculate":"(datum.x1 + datum.x2) / 2","as":"xm"}],"mark":{"type":"text","fontSize":14,"fontWeight":"bold","dy":-1,"baseline":"alphabetic","color":"#333"},"encoding":{"x":{"field":"xm","type":"quantitative","scale":{"domain":[-0.5,2.5]},"axis":{"values":[0,1,2],"title":null,"labelOverlap":false,"labelExpr":"datum.value == 0 ? 'Healthy young' : datum.value == 1 ? 'Healthy old' : 'Master cyclists'"}},"y":{"field":"y","type":"quantitative","scale":{"domain":[0,100]},"axis":{"values":[0,20,40,60,80,100],"labelOverlap":false,"title":"Memory CD4 T cells (%)"}},"text":{"field":"t"}}}
]}
], "spacing": 44}
],
"spacing": 26,
"center": true,
"config": {
"font": "Liberation Sans",
"view": {"stroke": null},
"axis": {"grid": false, "labelOverlap": false, "domainColor": "#333", "tickColor": "#333", "domainWidth": 1.2, "tickWidth": 1.2, "tickSize": 4, "labelColor": "#000", "labelFont": "Liberation Sans", "labelFontWeight": "bold", "labelFontSize": 10, "titleFont": "Liberation Sans", "titleFontWeight": "bold", "titleFontSize": 10, "titleColor": "#000", "titlePadding": 4},
"axisX": {"labelAngle": -24, "labelAlign": "right", "labelBaseline": "top", "labelPadding": 3},
"title": {"anchor": "start", "frame": "bounds", "fontSize": 11, "fontWeight": "bold", "font": "Liberation Sans", "color": "#000", "offset": -12}
}
}
